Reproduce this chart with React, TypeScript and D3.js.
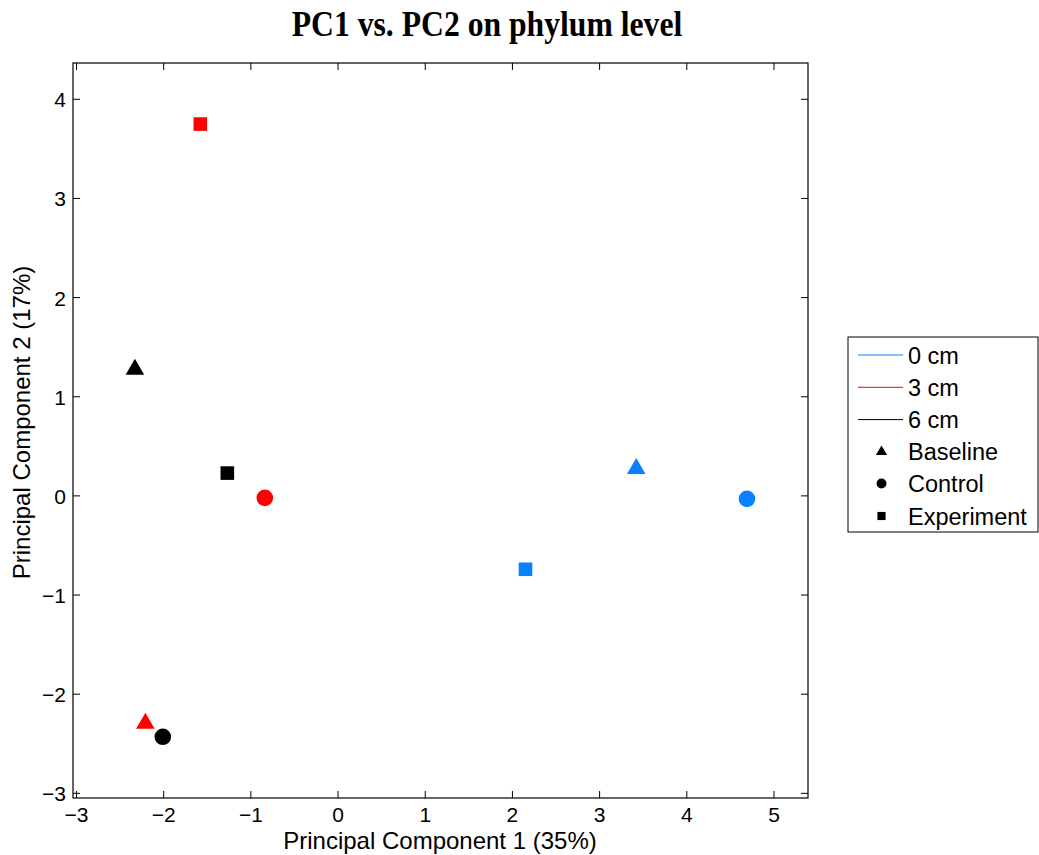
import React from "react";
import * as d3 from "d3";

const depths = ["0 cm", "3 cm", "6 cm"];
const depthColors = ["#0A80FF", "#FF0000", "#000000"];
const groups = ["Baseline", "Control", "Experiment"];
// PC1 values, by depth (rows) and group (cols)
const pc1 = [
  [3.42, 4.69, 2.15],
  [-2.21, -0.84, -1.58],
  [-2.33, -2.01, -1.27],
];
const pc2 = [
  [0.29, -0.03, -0.74],
  [-2.28, -0.02, 3.75],
  [1.29, -2.43, 0.23],
];
const xTicks = [-3, -2, -1, 0, 1, 2, 3, 4, 5];
const yTicks = [-3, -2, -1, 0, 1, 2, 3, 4];

const W = 1039, H = 855;
const L = 73, R = 808, T = 63, B = 798;

function Marker({ kind, x, y, color, s = 1 }: { kind: number; x: number; y: number; color: string; s?: number }) {
  if (kind === 0) {
    const sym = d3.symbol().type(d3.symbolTriangle).size(150 * s * s)();
    return <path d={sym as string} transform={`translate(${x},${y + 1.5 * s})`} fill={color} />;
  }
  if (kind === 1) return <circle cx={x} cy={y} r={8.3 * s} fill={color} />;
  const h = 6.8 * s;
  return <rect x={x - h} y={y - h} width={2 * h} height={2 * h} fill={color} />;
}

export default function App() {
  const x = d3.scaleLinear().domain([-3.04, 5.39]).range([L, R]);
  const y = d3.scaleLinear().domain([-3.047, 4.366]).range([B, T]);
  const font = "'Liberation Sans', Arial, Helvetica, sans-serif";
  const tl = 7;
  const pts: { d: number; g: number }[] = [];
  depths.forEach((_, d) => groups.forEach((__, g) => pts.push({ d, g })));
  return (
    <svg width={W} height={H} style={{ position: "absolute", left: 0, top: 0 }}>
      <rect x={0} y={0} width={W} height={H} fill="#fff" />
      <g transform="translate(487,36) scale(0.99,1.12)">
        <text x={0} y={0} textAnchor="middle" fontFamily="'Liberation Serif', 'Times New Roman', serif" fontWeight="bold" fontSize={32}>
          PC1 vs. PC2 on phylum level
        </text>
      </g>
      <g stroke="#000" strokeWidth={1}>
        {xTicks.map((t) => (
          <g key={"xt" + t}>
            <line x1={x(t)} x2={x(t)} y1={B} y2={B - tl} />
            <line x1={x(t)} x2={x(t)} y1={T} y2={T + tl} />
          </g>
        ))}
        {yTicks.map((t) => (
          <g key={"yt" + t}>
            <line x1={L} x2={L + tl} y1={y(t)} y2={y(t)} />
            <line x1={R} x2={R - tl} y1={y(t)} y2={y(t)} />
          </g>
        ))}
      </g>
      <rect x={L} y={T} width={R - L} height={B - T} fill="none" stroke="#000" strokeWidth={1.2} />
      {xTicks.map((t) => (
        <text key={"xl" + t} x={x(t)} y={822} textAnchor="middle" fontFamily={font} fontSize={21}>
          {t < 0 ? "\u2212" + Math.abs(t) : t}
        </text>
      ))}
      {yTicks.map((t) => (
        <text key={"yl" + t} x={66} y={y(t) + 8} textAnchor="end" fontFamily={font} fontSize={21}>
          {t < 0 ? "\u2212" + Math.abs(t) : t}
        </text>
      ))}
      <text x={440} y={849} textAnchor="middle" fontFamily={font} fontSize={24}>
        Principal Component 1 (35%)
      </text>
      <text transform={`translate(30,${(T + B) / 2 - 8}) rotate(-90)`} textAnchor="middle" fontFamily={font} fontSize={24}>
        Principal Component 2 (17%)
      </text>
      {pts.map(({ d, g }) => (
        <Marker key={`${d}-${g}`} kind={g} x={x(pc1[d][g])} y={y(pc2[d][g])} color={depthColors[d]} />
      ))}
      <g>
        <rect x={848} y={337} width={190} height={195} fill="#fff" stroke="#000" strokeWidth={1} />
        {depths.map((name, i) => (
          <g key={name}>
            <line x1={858} x2={903} y1={355 + i * 32.3} y2={355 + i * 32.3} stroke={depthColors[i]} strokeWidth={1} />
            <text x={908} y={355 + i * 32.3 + 8.5} fontFamily={font} fontSize={23.5}>{name}</text>
          </g>
        ))}
        {groups.map((name, i) => (
          <g key={name}>
            <Marker kind={i} x={881.5} y={451 + i * 32.5} color="#000" s={0.6} />
            <text x={908} y={451 + i * 32.5 + 8.5} fontFamily={font} fontSize={23.5}>{name}</text>
          </g>
        ))}
      </g>
    </svg>
  );
}
